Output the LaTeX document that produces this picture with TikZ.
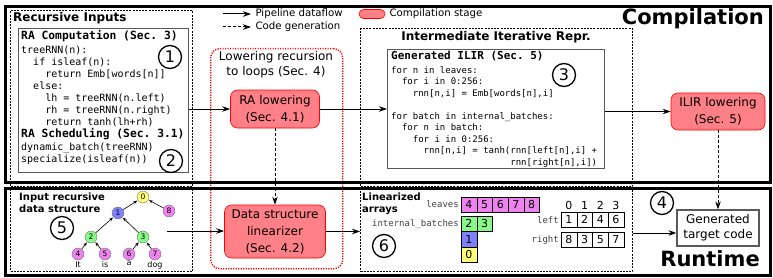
\documentclass[tikz,border=0pt]{standalone}
\usepackage{fontspec}
\setmainfont{DejaVu Sans}
\setsansfont{DejaVu Sans}
\setmonofont{DejaVu Sans Mono}
\usetikzlibrary{arrows.meta, positioning, calc}

\definecolor{stagefill}{RGB}{255,128,134}
\definecolor{leafcol}{RGB}{238,130,238}
\definecolor{batchcol}{RGB}{136,248,136}
\definecolor{midcol}{RGB}{128,128,255}
\definecolor{rootcol}{RGB}{255,255,120}

\newcommand{\fsz}[2]{\fontsize{#1}{#2}\selectfont}
\newcommand{\codeind}[1]{\hspace*{\dimexpr #1\fontdimen2\font\relax}}

\begin{document}
\begin{tikzpicture}[x=1pt, y=-1pt,
    every node/.style={font=\fsz{9}{11}},
    stagebox/.style={draw=red, fill=stagefill, rounded corners=7pt, semithick, align=center, inner sep=0pt, font=\fsz{12}{17}},
    codebox/.style={draw=black!65, line width=1.2pt, inner sep=0pt, anchor=north west},
    codetext/.style={anchor=north west, align=left, inner sep=0pt},
    groupbox/.style={draw, line width=1.3pt, dash pattern=on 2pt off 1.2pt, inner sep=0pt, anchor=north west},
    grouptitle/.style={font=\bfseries\fsz{12}{13}},
    stagebound/.style={draw, line width=3pt, inner sep=0pt, anchor=north west},
    dataflow/.style={-{Stealth[length=8pt, width=5.5pt]}, line width=1pt},
    codegen/.style={dataflow, dash pattern=on 3pt off 2pt},
    stepnum/.style={circle, draw, line width=1.3pt, inner sep=0pt, minimum size=23pt, font=\fsz{16}{16}},
    tnode/.style={circle, draw=black!55, inner sep=0pt, minimum size=12pt, font=\fsz{7.5}{8}},
    tedge/.style={-{Stealth[length=4pt, width=3pt]}, semithick, shorten >=0.5pt},
    tword/.style={below=0pt of #1, inner sep=1pt, font=\fsz{8}{8}},
    cell/.style={draw, inner sep=0pt, outer sep=0pt, minimum width=15.7pt, minimum height=15.4pt, anchor=north west, font=\fsz{11}{11}},
    arrname/.style={anchor=east, inner sep=2pt, text=black!75, font=\ttfamily\fsz{9}{9}}
]
    \useasboundingbox (0,0) rectangle (773,278);

    % Dashed groups (the stage bounds go over them)
    \node (recin) [groupbox, minimum width=182, minimum height=176] at (10,10) {};
    \node (iir) [groupbox, minimum width=272, minimum height=158] at (360,28) {};
    \node (inds) [groupbox, minimum width=182, minimum height=82] at (10,189) {};
    \node (linarr) [groupbox, minimum width=272, minimum height=82] at (360,189) {};
    \node (lowrec) [draw=red, line width=1.4pt, dash pattern=on 1.2pt off 1.3pt, rounded corners=9pt, minimum width=132, minimum height=220, anchor=north west] at (210,48) {};

    % Stage bounds
    \node (compile) [stagebound, minimum width=765, minimum height=176] at (4,5) {};
    \node (runtime) [stagebound, minimum width=765, minimum height=87] at (4,187) {};
    \node (comptitle) [anchor=base east, inner sep=0pt, font=\bfseries\fsz{21}{21}] at (764,25) {Compilation};
    \node (rttitle) [anchor=base east, inner sep=0pt, font=\bfseries\fsz{21}{21}] at (760,266) {Runtime};

    % Legend
    \coordinate (lga) at (223,14);
    \coordinate (lgb) at (251,14);
    \draw [dataflow] (lga) -- (lgb);
    \node (lgflow) [anchor=west, font=\fsz{10.2}{11}] at (252,14) {Pipeline dataflow};
    \coordinate (lgc) at (223,27);
    \coordinate (lgd) at (251,27);
    \draw [codegen] (lgc) -- (lgd);
    \node (lggen) [anchor=west, font=\fsz{10.2}{11}] at (252,27) {Code generation};
    \node (lgstage) [stagebox, minimum width=26, minimum height=9, rounded corners=4.5pt] at (372,14) {};
    \node (lgstagetxt) [anchor=west, font=\fsz{10.2}{11}] at (386,14) {Compilation stage};

    % Recursive inputs
    \node (recintitle) [grouptitle, anchor=north west, inner sep=0pt] at (13,12) {Recursive Inputs};
    \node (racode) [codebox, minimum width=170, minimum height=144] at (18,28) {};
    \node (racodetxt) [codetext, font=\ttfamily\fsz{10}{12}] at (21,30.5) {%
        {\bfseries\fsz{11.3}{12}RA Computation (Sec. 3)}\\[2pt]%
        treeRNN(n):\\%
        \codeind{2}if isleaf(n):\\%
        \codeind{4}return Emb[words[n]]\\%
        \codeind{2}else:\\%
        \codeind{4}lh = treeRNN(n.left)\\%
        \codeind{4}rh = treeRNN(n.right)\\%
        \codeind{4}return tanh(lh+rh)\\%
        {\bfseries\fsz{11.3}{12}RA Scheduling (Sec. 3.1)}\\[1pt]%
        dynamic\_batch(treeRNN)\\%
        specialize(isleaf(n))};
    \node (num1) [stepnum] at (170,57) {1};
    \node (num2) [stepnum] at (171,161) {2};

    % Lowering recursion to loops
    \node (lowrectitle) [align=center, font=\fsz{12}{15}] at (276,65) {Lowering recursion\\to loops (Sec. 4)};
    \node (ralow) [stagebox, minimum width=89, minimum height=38] at (275,109) {RA lowering\\(Sec. 4.1)};
    \node (linz) [stagebox, minimum width=101, minimum height=53] at (275,231.5) {Data structure\\linearizer\\(Sec. 4.2)};

    % Intermediate iterative repr.
    \node (iirtitle) [grouptitle] at (496,37) {Intermediate Iterative Repr.};
    \node (ilircode) [codebox, minimum width=217, minimum height=119] at (387,49) {};
    \node (ilirtxt) [codetext, font=\ttfamily\fsz{9}{11.5}] at (391,51) {%
        {\bfseries\fsz{11}{11.5}Generated ILIR (Sec. 5)}\\[2pt]%
        for n in leaves:\\%
        \codeind{2}for i in 0:256:\\%
        \codeind{4}rnn[n,i] = Emb[words[n],i]\\[11.5pt]%
        for batch in internal\_batches:\\%
        \codeind{2}for n in batch:\\%
        \codeind{4}for i in 0:256:\\%
        \codeind{6}rnn[n,i] = tanh(rnn[left[n],i] +\\[0.5pt]%
        \codeind{22}rnn[right[n],i])};
    \node (num3) [stepnum] at (564,75) {3};

    % Back end
    \node (ilirlow) [stagebox, minimum width=94, minimum height=37] at (718,111.5) {ILIR lowering\\(Sec. 5)};
    \node (tgt) [draw=black!65, line width=1.2pt, fill=white, minimum width=82, minimum height=36, inner sep=0pt, align=center, font=\fsz{12}{15}] at (718,228) {Generated\\target code};
    \node (num4) [stepnum] at (662,203) {4};

    % Input recursive data structure
    \node (indstitle) [anchor=north west, align=left, inner sep=0pt, font=\bfseries\fsz{10}{11.5}] at (19,193) {Input recursive\\data structure};
    \node (num5) [stepnum] at (62,228) {5};
    \node (t0) [tnode, fill=rootcol] at (143,197) {0};
    \node (t1) [tnode, fill=midcol] at (118,213) {1};
    \node (t8) [tnode, fill=leafcol] at (169,211) {8};
    \node (t2) [tnode, fill=batchcol] at (91,237) {2};
    \node (t3) [tnode, fill=batchcol] at (143,237) {3};
    \node (t4) [tnode, fill=leafcol] at (78,254) {4};
    \node (t5) [tnode, fill=leafcol] at (105,254) {5};
    \node (t6) [tnode, fill=leafcol] at (129,254) {6};
    \node (t7) [tnode, fill=leafcol] at (155,254) {7};
    \foreach \c/\p in {1/0, 8/0, 2/1, 3/1, 4/2, 5/2, 6/3, 7/3}
        \draw [tedge] (t\c) -- (t\p);
    \node (w4) [tword=t4] {It};
    \node (w5) [tword=t5] {is};
    \node (w6) [tword=t6] {a};
    \node (w7) [tword=t7] {dog};
    \coordinate (treeout) at (167,231);

    % Linearized arrays
    \node (linarrtitle) [anchor=north west, align=left, inner sep=0pt, font=\bfseries\fsz{10}{11.5}] at (362,193) {Linearized\\arrays};
    \node (num6) [stepnum] at (384,246) {6};
    \node (leaveslbl) [arrname] at (461,204.5) {leaves};
    \foreach \v [count=\i from 0] in {4,5,6,7,8}
        \node (lf\i) [cell, fill=leafcol] at (461+15.7*\i,197) {\v};
    \node (iblbl) [arrname] at (461,224) {internal\_batches};
    \node (ib0) [cell, fill=batchcol] at (461,216) {2};
    \node (ib1) [cell, fill=batchcol, right=0pt of ib0] {3};
    \node (ib2) [cell, fill=midcol, below=0pt of ib0] {1};
    \node (ib3) [cell, fill=rootcol, below=0pt of ib2] {0};
    \foreach \v [count=\i from 0] in {1,2,4,6}
        \node (lt\i) [cell] at (561+15.7*\i,212) {\v};
    \foreach \v [count=\i from 0] in {8,3,5,7}
        \node (rt\i) [cell] at (561+15.7*\i,232) {\v};
    \foreach \i in {0,...,3}
        \node (ix\i) [above=2.5pt of lt\i, inner sep=0pt, font=\fsz{11}{11}] {\i};
    \node (leftlbl) [arrname] at (lt0.west) {left};
    \node (rightlbl) [arrname] at (rt0.west) {right};

    % Pipeline dataflow
    \draw [dataflow] (racode.east |- ralow.west) -- (ralow.west);
    \draw [dataflow] (ralow.east) -- (ralow.east -| ilircode.west);
    \draw [dataflow] (ilirlow.west -| ilircode.east) -- (ilirlow.west);
    \draw [dataflow] (treeout) -- (treeout -| linz.west);
    \draw [dataflow] (linz.east) -- (linz.east -| linarr.west);
    \coordinate (tgtin) at ([yshift=-5pt]tgt.west);
    \draw [dataflow] (tgtin -| linarr.east) -- (tgtin);

    % Code generation
    \draw [codegen] (ralow.south) -- (linz.north);
    \draw [codegen] (ilirlow.south) -- (tgt.north);
\end{tikzpicture}
\end{document}
